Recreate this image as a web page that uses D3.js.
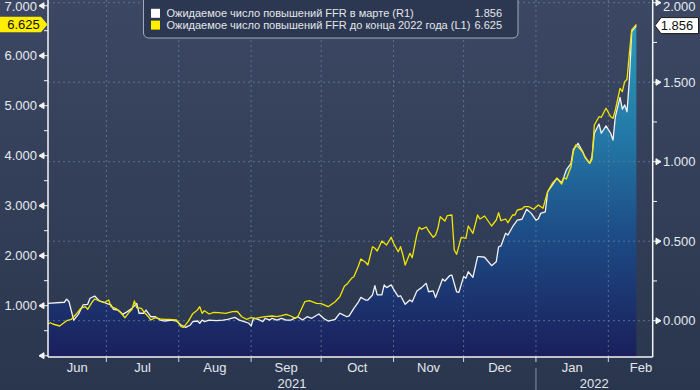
<!DOCTYPE html>
<html>
<head>
<meta charset="utf-8">
<script src="https://cdn.jsdelivr.net/npm/d3@7"></script>
<style>
    html, body { margin: 0; padding: 0; background: #2e3b53; }
    svg { display: block; font-family: 'Liberation Sans', Arial, sans-serif; }
</style>
</head>
<body>
<div class="chart"></div>
<script>
/* R1: expected hikes at the March meeting (right axis) */
const marchDates = [
    '2021-06-06', '2021-06-13', '2021-06-14', '2021-06-15', '2021-06-17', '2021-06-19', '2021-06-21', '2021-06-23',
    '2021-06-24', '2021-06-26', '2021-06-28', '2021-06-30', '2021-07-01', '2021-07-03', '2021-07-04', '2021-07-06',
    '2021-07-08', '2021-07-10', '2021-07-12', '2021-07-14', '2021-07-15', '2021-07-17', '2021-07-18', '2021-07-20',
    '2021-07-22', '2021-07-24', '2021-07-26', '2021-07-29', '2021-07-31', '2021-08-02', '2021-08-04', '2021-08-06',
    '2021-08-07', '2021-08-09', '2021-08-10', '2021-08-11', '2021-08-12', '2021-08-14', '2021-08-17', '2021-08-20',
    '2021-08-22', '2021-08-25', '2021-08-27', '2021-08-29', '2021-08-31', '2021-09-01', '2021-09-02', '2021-09-04',
    '2021-09-06', '2021-09-07', '2021-09-09', '2021-09-10', '2021-09-12', '2021-09-14', '2021-09-16', '2021-09-18',
    '2021-09-21', '2021-09-23', '2021-09-25', '2021-09-27', '2021-09-30', '2021-10-02', '2021-10-04', '2021-10-07',
    '2021-10-09', '2021-10-10', '2021-10-12', '2021-10-13', '2021-10-15', '2021-10-17', '2021-10-18', '2021-10-20',
    '2021-10-21', '2021-10-23', '2021-10-24', '2021-10-25', '2021-10-27', '2021-10-28', '2021-10-29', '2021-10-31',
    '2021-11-01', '2021-11-03', '2021-11-04', '2021-11-06', '2021-11-08', '2021-11-09', '2021-11-11', '2021-11-13',
    '2021-11-15', '2021-11-16', '2021-11-18', '2021-11-19', '2021-11-22', '2021-11-23', '2021-11-25', '2021-11-26',
    '2021-11-28', '2021-11-29', '2021-12-01', '2021-12-02', '2021-12-03', '2021-12-05', '2021-12-07', '2021-12-08',
    '2021-12-10', '2021-12-13', '2021-12-15', '2021-12-16', '2021-12-17', '2021-12-19', '2021-12-20', '2021-12-22',
    '2021-12-24', '2021-12-26', '2021-12-28', '2021-12-30', '2022-01-01', '2022-01-02', '2022-01-03', '2022-01-05',
    '2022-01-06', '2022-01-08', '2022-01-10', '2022-01-12', '2022-01-13', '2022-01-14', '2022-01-16', '2022-01-17',
    '2022-01-18', '2022-01-19', '2022-01-21', '2022-01-22', '2022-01-24', '2022-01-25', '2022-01-26', '2022-01-28',
    '2022-01-29', '2022-01-31', '2022-02-02', '2022-02-03', '2022-02-04', '2022-02-06', '2022-02-07', '2022-02-08',
    '2022-02-09', '2022-02-10', '2022-02-11', '2022-02-13'
];
const marchValues = [
    0.109, 0.116, 0.136, 0.119, 0.004, 0.040, 0.099, 0.103,
    0.141, 0.155, 0.124, 0.116, 0.109, 0.099, 0.072, 0.067,
    0.040, 0.057, 0.078, 0.109, 0.047, 0.047, 0.067, 0.025,
    0.025, 0.004, -0.002, 0.004, -0.002, -0.027, -0.042, -0.027,
    -0.006, -0.002, -0.016, 0.004, -0.006, 0.004, 0.000, 0.004,
    0.009, 0.021, 0.004, -0.006, -0.016, -0.033, 0.015, 0.009,
    -0.006, 0.015, 0.004, 0.015, 0.004, 0.015, 0.004, 0.004,
    0.025, 0.004, 0.025, 0.015, 0.042, 0.015, -0.002, 0.009,
    0.047, 0.040, 0.025, 0.030, 0.078, 0.119, 0.147, 0.130,
    0.130, 0.162, 0.220, 0.162, 0.162, 0.225, 0.208, 0.225,
    0.199, 0.151, 0.157, 0.103, 0.130, 0.119, 0.187, 0.208,
    0.235, 0.182, 0.187, 0.145, 0.262, 0.250, 0.283, 0.287,
    0.182, 0.179, 0.277, 0.267, 0.308, 0.273, 0.403, 0.403,
    0.399, 0.346, 0.371, 0.465, 0.470, 0.550, 0.539, 0.591,
    0.633, 0.638, 0.701, 0.675, 0.633, 0.640, 0.675, 0.684,
    0.811, 0.853, 0.896, 0.868, 0.906, 0.948, 0.990, 1.078,
    1.094, 1.116, 1.063, 1.028, 0.990, 1.031, 1.179, 1.237,
    1.179, 1.225, 1.179, 1.136, 1.283, 1.405, 1.330, 1.357,
    1.314, 1.514, 1.818, 1.856
];

/* L1: expected hikes by the end of 2022 (left axis) */
const yearEndDates = [
    '2021-06-06', '2021-06-07', '2021-06-08', '2021-06-11', '2021-06-14', '2021-06-16', '2021-06-18', '2021-06-20',
    '2021-06-22', '2021-06-23', '2021-06-25', '2021-06-26', '2021-06-28', '2021-06-30', '2021-07-02', '2021-07-03',
    '2021-07-05', '2021-07-07', '2021-07-09', '2021-07-11', '2021-07-12', '2021-07-13', '2021-07-14', '2021-07-16',
    '2021-07-17', '2021-07-19', '2021-07-20', '2021-07-22', '2021-07-24', '2021-07-26', '2021-07-28', '2021-07-31',
    '2021-08-01', '2021-08-02', '2021-08-03', '2021-08-05', '2021-08-07', '2021-08-09', '2021-08-10', '2021-08-11',
    '2021-08-12', '2021-08-14', '2021-08-16', '2021-08-18', '2021-08-21', '2021-08-24', '2021-08-26', '2021-08-28',
    '2021-08-30', '2021-09-01', '2021-09-03', '2021-09-05', '2021-09-07', '2021-09-10', '2021-09-12', '2021-09-14',
    '2021-09-16', '2021-09-18', '2021-09-20', '2021-09-21', '2021-09-23', '2021-09-24', '2021-09-26', '2021-09-29',
    '2021-10-01', '2021-10-04', '2021-10-07', '2021-10-09', '2021-10-11', '2021-10-12', '2021-10-14', '2021-10-15',
    '2021-10-17', '2021-10-18', '2021-10-20', '2021-10-21', '2021-10-23', '2021-10-24', '2021-10-25', '2021-10-27',
    '2021-10-29', '2021-10-31', '2021-11-01', '2021-11-03', '2021-11-04', '2021-11-05', '2021-11-06', '2021-11-08',
    '2021-11-09', '2021-11-11', '2021-11-12', '2021-11-13', '2021-11-15', '2021-11-16', '2021-11-18', '2021-11-19',
    '2021-11-20', '2021-11-21', '2021-11-23', '2021-11-24', '2021-11-26', '2021-11-27', '2021-11-28', '2021-11-30',
    '2021-12-02', '2021-12-03', '2021-12-05', '2021-12-07', '2021-12-08', '2021-12-10', '2021-12-13', '2021-12-15',
    '2021-12-16', '2021-12-17', '2021-12-19', '2021-12-20', '2021-12-22', '2021-12-23', '2021-12-24', '2021-12-26',
    '2021-12-27', '2021-12-29', '2021-12-31', '2022-01-02', '2022-01-04', '2022-01-06', '2022-01-08', '2022-01-10',
    '2022-01-12', '2022-01-13', '2022-01-14', '2022-01-16', '2022-01-17', '2022-01-18', '2022-01-19', '2022-01-21',
    '2022-01-22', '2022-01-24', '2022-01-25', '2022-01-26', '2022-01-28', '2022-01-29', '2022-01-31', '2022-02-02',
    '2022-02-03', '2022-02-04', '2022-02-06', '2022-02-07', '2022-02-08', '2022-02-09', '2022-02-10', '2022-02-11',
    '2022-02-13'
];
const yearEndValues = [
    0.634, 0.660, 0.634, 0.594, 0.700, 0.728, 0.828, 0.948,
    0.980, 0.928, 1.080, 1.134, 1.094, 1.060, 1.114, 0.980,
    0.948, 0.868, 0.760, 0.880, 0.928, 1.094, 0.960, 0.948,
    0.880, 0.780, 0.714, 0.760, 0.734, 0.728, 0.728, 0.714,
    0.648, 0.580, 0.568, 0.680, 0.840, 0.914, 0.980, 0.848,
    0.900, 0.834, 0.868, 0.860, 0.848, 0.880, 0.888, 0.780,
    0.728, 0.760, 0.748, 0.768, 0.780, 0.794, 0.780, 0.800,
    0.828, 0.794, 0.748, 0.780, 0.980, 1.080, 1.100, 1.048,
    1.040, 0.980, 1.080, 1.180, 1.394, 1.428, 1.548, 1.580,
    1.800, 1.934, 1.868, 1.814, 2.180, 2.148, 2.094, 2.294,
    2.214, 2.368, 2.248, 2.080, 2.180, 2.014, 1.814, 2.048,
    1.960, 2.428, 2.568, 2.528, 2.574, 2.494, 2.368, 2.414,
    2.548, 2.780, 2.694, 2.800, 2.814, 2.114, 2.028, 2.368,
    2.348, 2.594, 2.448, 2.814, 2.734, 2.794, 2.594, 2.714,
    2.860, 2.700, 2.734, 2.660, 2.814, 2.814, 2.914, 2.934,
    2.980, 2.980, 2.928, 3.014, 2.948, 3.280, 3.450, 3.548,
    3.434, 3.560, 3.534, 3.780, 4.080, 4.214, 4.180, 4.080,
    3.980, 3.848, 3.928, 4.614, 4.780, 4.768, 4.948, 4.780,
    4.748, 4.914, 5.348, 5.280, 5.480, 5.528, 6.048, 6.514,
    6.625
];

/* legend and axis texts */
const legendLabels = [
    'Ожидаемое число повышений FFR в марте (R1)',
    'Ожидаемое число повышений FFR до конца 2022 года (L1)'
];
const leftTicks = [0, 1, 2, 3, 4, 5, 6, 7];
const rightTicks = [0, 0.5, 1, 1.5, 2];
const monthStarts = ['2021-06-01', '2021-07-01', '2021-08-01', '2021-09-01', '2021-10-01',
    '2021-11-01', '2021-12-01', '2022-01-01', '2022-02-01', '2022-03-01'];
const yearLabels = ['2021', '2022'];

(function () {
    'use strict';

    const W = 700, H = 390;
    const plot = { left: 48, right: 652.7, top: 0, bottom: 357 };
    const parse = d3.timeParse('%Y-%m-%d');
    const fmt = d3.format('.3f');

    const march = marchDates.map(function (d, i) { return { date: parse(d), value: marchValues[i] }; });
    const yearEnd = yearEndDates.map(function (d, i) { return { date: parse(d), value: yearEndValues[i] }; });
    const months = monthStarts.map(parse);

    const x = d3.scaleTime().domain([new Date(2021, 5, 6), new Date(2022, 1, 20)]).range([plot.left, plot.right]);
    const yL = d3.scaleLinear().domain([0, 7]).range([355.7, 5.7]);
    const yR = d3.scaleLinear().domain([0, 2]).range([320.7, 2.7]);

    const svg = d3.select('.chart').append('svg').attr('width', W).attr('height', H);
    const defs = svg.append('defs');

    /* gradients */
    const bg = defs.append('linearGradient').attr('id', 'bg').attr('x1', 0).attr('y1', 0).attr('x2', 0).attr('y2', 1);
    bg.append('stop').attr('offset', '0%').attr('stop-color', '#3c4863');
    bg.append('stop').attr('offset', '100%').attr('stop-color', '#2a364d');

    const ag = defs.append('linearGradient').attr('id', 'areaGrad').attr('gradientUnits', 'userSpaceOnUse')
        .attr('x1', 0).attr('y1', 20).attr('x2', 0).attr('y2', plot.bottom);
    [['0%', '#2c9cbb'], ['35%', '#2378a6'], ['65%', '#1d4a84'], ['100%', '#1a1f5c']].forEach(function (s) {
        ag.append('stop').attr('offset', s[0]).attr('stop-color', s[1]);
    });

    svg.append('rect').attr('width', W).attr('height', H).attr('fill', 'url(#bg)');

    /* area under the R1 line */
    const area = d3.area()
        .x(function (d) { return x(d.date); })
        .y0(plot.bottom)
        .y1(function (d) { return yR(d.value); });
    svg.append('path').datum(march).attr('d', area).attr('fill', 'url(#areaGrad)');

    /* dashed grid */
    const grid = svg.append('g').attr('class', 'grid')
        .attr('stroke', '#6883a0').attr('stroke-opacity', 0.75)
        .attr('stroke-dasharray', '2,3').attr('stroke-width', 1);
    grid.selectAll('.h').data(rightTicks).enter().append('line')
        .attr('x1', plot.left).attr('x2', plot.right)
        .attr('y1', function (d) { return yR(d); }).attr('y2', function (d) { return yR(d); });
    grid.selectAll('.v').data(months.slice(1, -1)).enter().append('line')
        .attr('y1', plot.top).attr('y2', plot.bottom)
        .attr('x1', function (d) { return x(d); }).attr('x2', function (d) { return x(d); });

    /* lines */
    const lineR = d3.line().x(function (d) { return x(d.date); }).y(function (d) { return yR(d.value); });
    const lineL = d3.line().x(function (d) { return x(d.date); }).y(function (d) { return yL(d.value); });
    svg.append('path').datum(march).attr('d', lineR)
        .attr('fill', 'none').attr('stroke', '#f2f2f2').attr('stroke-width', 1.3).attr('stroke-linejoin', 'round');
    svg.append('path').datum(yearEnd).attr('d', lineL)
        .attr('fill', 'none').attr('stroke', '#f2e600').attr('stroke-width', 1.3).attr('stroke-linejoin', 'round');

    /* axis frame */
    const frame = svg.append('g').attr('stroke', '#f4f4f4').attr('stroke-width', 1.5);
    frame.append('line').attr('x1', plot.left).attr('x2', plot.left).attr('y1', 0).attr('y2', plot.bottom);
    frame.append('line').attr('x1', plot.right).attr('x2', plot.right).attr('y1', 0).attr('y2', plot.bottom);
    frame.append('line').attr('x1', plot.left).attr('x2', plot.right).attr('y1', plot.bottom).attr('y2', plot.bottom);

    /* left axis */
    const left = svg.append('g').attr('class', 'y-left');
    left.selectAll('.tri').data(leftTicks).enter().append('path')
        .attr('d', function (d) {
            const y = yL(d);
            return 'M48,' + y + 'H44L39,' + y + 'L44,' + (y - 3) + 'V' + (y + 3) + 'L39,' + y;
        })
        .attr('fill', '#f4f4f4').attr('stroke', '#f4f4f4').attr('stroke-width', 1);
    left.selectAll('.minor').data(leftTicks.slice(0, -1)).enter().append('line')
        .attr('x1', 44).attr('x2', 48)
        .attr('y1', function (d) { return yL(d + 0.5); }).attr('y2', function (d) { return yL(d + 0.5); })
        .attr('stroke', '#f4f4f4').attr('stroke-width', 1);
    left.selectAll('.lbl').data(leftTicks.slice(1)).enter().append('text')
        .text(function (d) { return fmt(d); })
        .attr('x', 37).attr('y', function (d) { return Math.max(yL(d), 6.5); }).attr('dy', '.36em')
        .attr('text-anchor', 'end').attr('fill', '#e6eaf0').style('font-size', '13px');

    /* right axis */
    const right = svg.append('g').attr('class', 'y-right');
    right.selectAll('.tri').data(rightTicks).enter().append('path')
        .attr('d', function (d) {
            const y = yR(d);
            return 'M' + plot.right + ',' + y + 'H656L661,' + y + 'L656,' + (y - 3) + 'V' + (y + 3) + 'L661,' + y;
        })
        .attr('fill', '#f4f4f4').attr('stroke', '#f4f4f4').attr('stroke-width', 1);
    right.selectAll('.minor').data(rightTicks.slice(0, -1)).enter().append('line')
        .attr('x1', plot.right).attr('x2', 657)
        .attr('y1', function (d) { return yR(d + 0.25); }).attr('y2', function (d) { return yR(d + 0.25); })
        .attr('stroke', '#f4f4f4').attr('stroke-width', 1);
    right.selectAll('.lbl').data(rightTicks).enter().append('text')
        .text(function (d) { return fmt(d); })
        .attr('x', 663).attr('y', function (d) { return Math.max(yR(d), 6.5); }).attr('dy', '.36em')
        .attr('fill', '#e6eaf0').style('font-size', '13px');

    /* x axis: month ticks, month and year labels */
    const xAxis = svg.append('g').attr('class', 'x-axis');
    xAxis.selectAll('.tick').data(months.slice(1, -1)).enter().append('line')
        .attr('x1', function (d) { return x(d); }).attr('x2', function (d) { return x(d); })
        .attr('y1', plot.bottom).attr('y2', plot.bottom + 5)
        .attr('stroke', '#d0d6de').attr('stroke-width', 1);
    xAxis.selectAll('.month').data(months.slice(0, -1)).enter().append('text')
        .text(d3.timeFormat('%b'))
        .attr('x', function (d, i) {
            return (Math.max(x(d), plot.left) + x(months[i + 1])) / 2;
        })
        .attr('y', 371.5).attr('text-anchor', 'middle')
        .attr('fill', '#e2e7ee').style('font-size', '13px');

    const yearSplit = x(parse('2022-01-01'));
    const yearSpans = [[plot.left, yearSplit], [yearSplit, plot.right]];
    xAxis.selectAll('.year').data(yearLabels).enter().append('text')
        .text(function (d) { return d; })
        .attr('x', function (d, i) { return (yearSpans[i][0] + yearSpans[i][1]) / 2; })
        .attr('y', 387.5).attr('text-anchor', 'middle')
        .attr('fill', '#e2e7ee').style('font-size', '13px');
    xAxis.append('line').attr('x1', yearSplit).attr('x2', yearSplit).attr('y1', 368).attr('y2', H)
        .attr('stroke', '#8592a3').attr('stroke-width', 1);

    /* last value badges */
    const lastL = yearEnd[yearEnd.length - 1].value;
    const lastR = march[march.length - 1].value;
    const cyL = yL(lastL), cyR = yR(lastR);
    svg.append('path')
        .attr('d', 'M0,' + (cyL - 7.8) + 'H41L47.5,' + cyL + 'L41,' + (cyL + 7.8) + 'H0Z')
        .attr('fill', '#ffee00');
    svg.append('text').text(fmt(lastL)).attr('x', 23.5).attr('y', cyL).attr('dy', '.36em')
        .attr('text-anchor', 'middle').attr('fill', '#111').style('font-size', '13px');
    svg.append('path')
        .attr('d', 'M655,' + cyR + 'L661,' + (cyR - 8) + 'H698.5V' + (cyR + 8) + 'H661Z')
        .attr('fill', '#ffffff').attr('stroke', '#1a1a1a').attr('stroke-width', 1);
    svg.append('text').text(fmt(lastR)).attr('x', 677).attr('y', cyR).attr('dy', '.36em')
        .attr('text-anchor', 'middle').attr('fill', '#111').style('font-size', '13px');

    /* legend */
    const legend = svg.append('g').attr('class', 'legend');
    legend.append('rect').attr('x', 143.5).attr('y', -6).attr('width', 374.5).attr('height', 44).attr('rx', 5)
        .attr('fill', '#2c3852').attr('stroke', '#a3abb8').attr('stroke-width', 1);
    const rows = [
        { label: legendLabels[0], value: lastR, color: '#ffffff' },
        { label: legendLabels[1], value: lastL, color: '#ffee00' }
    ];
    const row = legend.selectAll('.row').data(rows).enter().append('g')
        .attr('transform', function (d, i) { return 'translate(0,' + (13.3 + i * 11.8) + ')'; });
    row.append('rect').attr('x', 151).attr('y', -4.5).attr('width', 9).attr('height', 9)
        .attr('fill', function (d) { return d.color; });
    row.append('text').text(function (d) { return d.label; })
        .attr('x', 166.5).attr('dy', '.36em').attr('fill', '#e4e6ea').style('font-size', '11px');
    row.append('text').text(function (d) { return fmt(d.value); })
        .attr('x', 502).attr('dy', '.36em').attr('text-anchor', 'end')
        .attr('fill', '#e4e6ea').style('font-size', '11px');
}());
</script>
</body>
</html>
